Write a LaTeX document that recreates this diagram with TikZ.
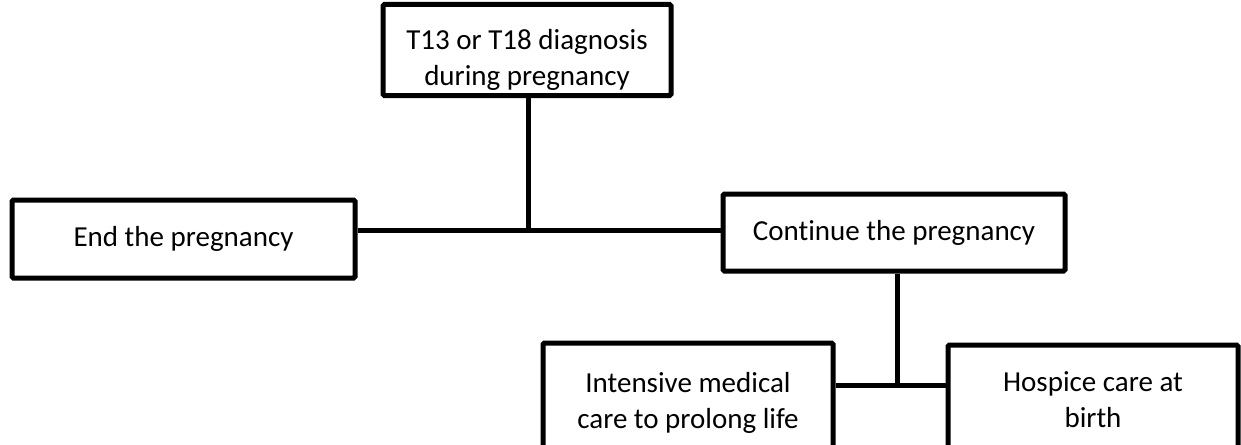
\documentclass[tikz,border=0pt]{standalone}
\usepackage{fontspec}
\setmainfont{Carlito}[Ligatures={NoCommon}]
\begin{document}
\begin{tikzpicture}[x=1pt,y=-1pt,
  txt/.style={inner sep=0pt,align=center,font=\fontsize{29}{36}\selectfont},
  box/.style={draw=black,line width=5pt,fill=white,txt,rounded corners=1.5pt},
  link/.style={draw=black,line width=5pt}]
\useasboundingbox (0,0) rectangle (1241,444);
\clip (0,0) rectangle (1241,444);
\node[box,minimum width=288pt,minimum height=91pt,
  label={[txt,name=toptext,yshift=-10pt]center:T13 or T18 diagnosis\\during pregnancy}] (top) at (527,50) {};
\node[box,minimum width=343pt,minimum height=78pt] (left) at (183.5,239) {End the pregnancy};
\node[box,minimum width=342pt,minimum height=77pt] (right) at (894,232.5) {Con{}tinue the pregnancy};
\node[box,minimum width=290pt,minimum height=120pt] (bl) at (688,403) {Intensive medical\\care to prolong life};
\node[box,minimum width=290pt,minimum height=110pt] (br) at (1093,400) {Hospice care at\\birth};
\coordinate (j1) at (528,230);
\coordinate (j2) at (897,385);
\draw[link] (top.south -| j1) -- (j1);
\draw[link] (left.east |- j1) -- (right.west |- j1);
\draw[link] (right.south -| j2) -- (j2);
\draw[link] (bl.east |- j2) -- (br.west |- j2);
\end{tikzpicture}
\end{document}
